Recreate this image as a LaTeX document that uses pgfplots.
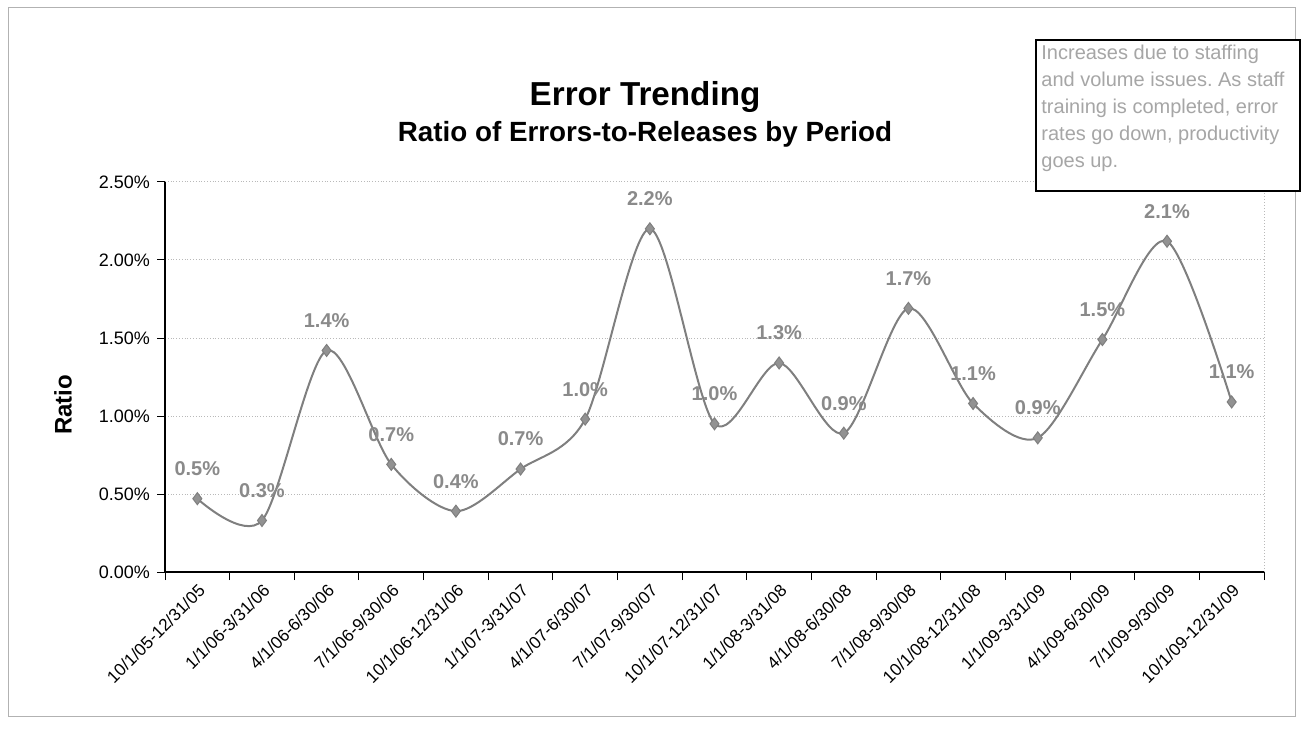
\documentclass[border=0pt]{standalone}
\usepackage{fontspec}
\setmainfont{Liberation Sans}
\usepackage{pgfplots}
\pgfplotsset{compat=1.18}
\usepackage{pgfplotstable}
\frenchspacing

\definecolor{linegray}{HTML}{7F7F7F}
\definecolor{labgray}{HTML}{8A8A8A}
\definecolor{notegray}{HTML}{A6A6A6}

% ratio in percent, label = rounded value shown on the chart
\pgfplotstableread{
x ratio lab
0 0.47 0.5
1 0.33 0.3
2 1.42 1.4
3 0.69 0.7
4 0.39 0.4
5 0.66 0.7
6 0.98 1.0
7 2.20 2.2
8 0.95 1.0
9 1.34 1.3
10 0.89 0.9
11 1.69 1.7
12 1.08 1.1
13 0.86 0.9
14 1.49 1.5
15 2.12 2.1
16 1.09 1.1
}\errdata

\begin{document}
\begin{tikzpicture}[x=1pt,y=1pt]
\useasboundingbox (0,0) rectangle (650.5,370);
\draw[gray!60, line width=0.5pt] (4,12) rectangle (647.5,366);

\node[font=\bfseries\fontsize{16.6}{19}\selectfont] at (322.5,321.5) {Error Trending};
\node[font=\bfseries\fontsize{13.9}{16}\selectfont] at (322.5,303) {Ratio of Errors-to-Releases by Period};
\node[rotate=90, font=\bfseries\fontsize{12}{14}\selectfont] at (31.5,167.5) {Ratio};

\begin{axis}[
    at={(82.5pt,84pt)}, anchor=south west,
    scale only axis, width=549.5pt, height=195pt,
    xmin=-0.5, xmax=16.5, ymin=0, ymax=2.5,
    axis lines=left, axis line style={-, black, line width=0.8pt},
    clip=false,
    tick align=outside, tick pos=left,
    ytick={0,0.5,1,1.5,2,2.5},
    yticklabel={\pgfmathprintnumber[fixed,fixed zerofill,precision=2]{\tick}\%},
    /pgf/number format/assume math mode=true,
    y tick label style={font=\fontsize{9}{10}\selectfont},
    major y tick style={black, line width=0.5pt},
    major tick length=4pt,
    ymajorgrids, major grid style={gray!55, densely dotted, line width=0.5pt},
    xtick={0,...,16},
    major x tick style={draw=none},
    minor xtick={-0.5,0.5,...,16.5},
    minor x tick style={black, line width=0.5pt},
    minor tick length=4pt,
    xticklabels={10/1/05-12/31/05,1/1/06-3/31/06,4/1/06-6/30/06,7/1/06-9/30/06,
      10/1/06-12/31/06,1/1/07-3/31/07,4/1/07-6/30/07,7/1/07-9/30/07,
      10/1/07-12/31/07,1/1/08-3/31/08,4/1/08-6/30/08,7/1/08-9/30/08,
      10/1/08-12/31/08,1/1/09-3/31/09,4/1/09-6/30/09,7/1/09-9/30/09,
      10/1/09-12/31/09},
    x tick label style={rotate=45, anchor=north east, inner sep=1pt,
      font=\fontsize{8.6}{10}\selectfont},
    after end axis/.code={
      \draw[gray!55, densely dotted, line width=0.5pt] (rel axis cs:1,0) -- (rel axis cs:1,1);
    },
]
\addplot[linegray, line width=1pt, smooth,
    mark=diamond*, mark size=3pt,
    mark options={fill=linegray!85, draw=linegray, line width=0.5pt},
    point meta=explicit symbolic,
    nodes near coords={\pgfplotspointmeta\%},
    every node near coord/.append style={anchor=center, yshift=15pt,
      text=labgray, font=\bfseries\fontsize{10}{12}\selectfont}]
  table[x=x, y=ratio, meta=lab] {\errdata};
\end{axis}

\draw[black, line width=1pt, fill=white] (518,274.5) rectangle (650,350);
\node[anchor=north west, align=left, inner sep=0pt, text=notegray,
      font=\fontsize{10}{13.5}\selectfont] at (520.5,347.5)
  {Increases due to staffing\\and volume issues. As staff\\training is completed, error\\rates go down, productivity\\goes up.};
\end{tikzpicture}
\end{document}
